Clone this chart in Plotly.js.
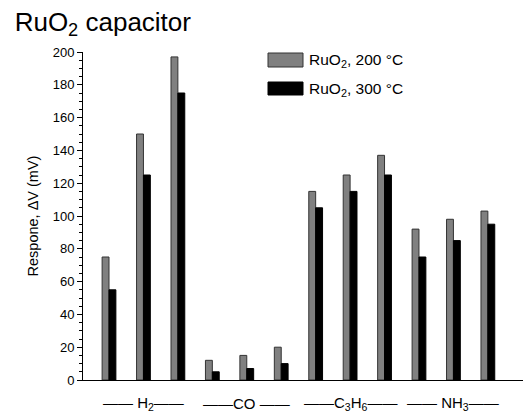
<!DOCTYPE html>
<html><head><meta charset="utf-8">
<script src="https://cdn.plot.ly/plotly-3.0.1.min.js"></script>
<style>html,body{margin:0;padding:0;background:#fff}#c{width:523px;height:415px}</style>
</head><body><div id="c"></div>
<script>
const categories = ['H2-1','H2-2','H2-3','CO-1','CO-2','CO-3','C3H6-1','C3H6-2','C3H6-3','NH3-1','NH3-2','NH3-3'];
const ruo2_200 = [75, 150, 197, 12, 15, 20, 115, 125, 137, 92, 98, 103];
const ruo2_300 = [55, 125, 175, 5, 7, 10, 105, 115, 125, 75, 85, 95];
const groupLabels = ['—— H<sub>2</sub>——', '——CO ——', '——C<sub>3</sub>H<sub>6</sub>——', '—— NH<sub>3</sub>——'];
const groupCenters = ['H2-2','CO-2','C3H6-2','NH3-2'];
const seriesNames = ['RuO<sub>2</sub>, 200 °C', 'RuO<sub>2</sub>, 300 °C'];

const F = '"Liberation Sans", Arial, sans-serif';
const traces = [
  {type:'bar', x:categories, y:ruo2_200, name:seriesNames[0], marker:{color:'#808080', line:{color:'#333', width:1}}},
  {type:'bar', x:categories, y:ruo2_300, name:seriesNames[1], marker:{color:'#000000', line:{color:'#000', width:1}}}
];
const annotations = groupLabels.map((t,i)=>({x:groupCenters[i], y:0, xref:'x', yref:'paper', yshift:-23, yanchor:'middle', text:t, showarrow:false, font:{family:F, size:15, color:'#000'}}));
const layout = {
  width:523, height:415,
  margin:{l:83, r:0, t:52, b:35},
  paper_bgcolor:'#fff', plot_bgcolor:'#fff',
  showlegend:false,
  barmode:'group', bargap:0.6, bargroupgap:0,
  title:{text:'RuO<sub>2</sub> capacitor', x:0.028, xanchor:'left', y:0.948, yanchor:'middle', font:{family:F, size:26, color:'#000'}},
  xaxis:{type:'category', range:[-0.755, 12.02], showticklabels:false, ticks:'', showline:true, linecolor:'#000', linewidth:1, showgrid:false, zeroline:false},
  yaxis:{range:[0,200], dtick:20, ticks:'outside', ticklen:5, tickwidth:1, tickcolor:'#000', showline:true, linecolor:'#000', linewidth:1, showgrid:false, zeroline:false,
    minor:{dtick:5, ticks:'outside', ticklen:3, tickcolor:'#000', showgrid:false},
    tickfont:{family:F, size:13, color:'#000'},
    title:{text:'Respone, ΔV (mV)', font:{family:F, size:14.5, color:'#000'}, standoff:10}},
  shapes:[
    {type:'rect', xref:'paper', yref:'paper', x0:(268-83)/440, x1:(303-83)/440, y0:(380-67)/328, y1:(380-53)/328, fillcolor:'#808080', line:{color:'#333', width:1}},
    {type:'rect', xref:'paper', yref:'paper', x0:(268-83)/440, x1:(303-83)/440, y0:(380-95)/328, y1:(380-82)/328, fillcolor:'#000', line:{color:'#000', width:1}}
  ],
  annotations: annotations.concat([
    {xref:'paper', yref:'paper', x:(307-83)/440, y:(380-60)/328, xanchor:'left', yanchor:'middle', text:seriesNames[0], showarrow:false, font:{family:F, size:15.5, color:'#000'}},
    {xref:'paper', yref:'paper', x:(307-83)/440, y:(380-89)/328, xanchor:'left', yanchor:'middle', text:seriesNames[1], showarrow:false, font:{family:F, size:15.5, color:'#000'}}
  ])
};
Plotly.newPlot('c', traces, layout, {displayModeBar:false, staticPlot:true});
</script></body></html>
